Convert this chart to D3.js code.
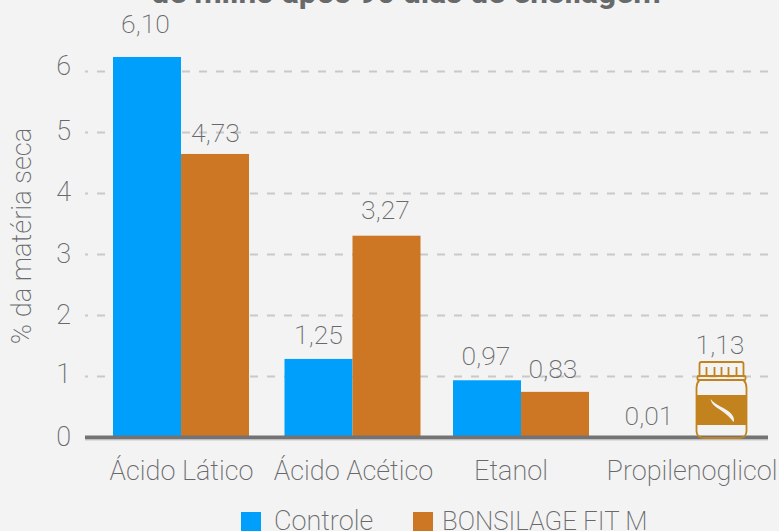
<!DOCTYPE html>
<html>
<head>
<meta charset="utf-8">
<script src="https://cdnjs.cloudflare.com/ajax/libs/d3/7.8.5/d3.min.js"></script>
<style>
  html, body { margin: 0; padding: 0; background: #f3f3f3; overflow: hidden; }
  text { font-family: Roboto, sans-serif; font-weight: 200; fill: #68696b; }
</style>
</head>
<body>
<div id="chart-area"></div>
<script>
const categories = ['Ácido Lático', 'Ácido Acético', 'Etanol', 'Propilenoglicol']
const seriesNames = ['Controle', 'BONSILAGE FIT M']
const controle = [6.23, 1.28, 0.93, 0]
const bonsilage = [4.64, 3.3, 0.74, 0]
const controleLabels = ['6,10', '1,25', '0,97', '0,01']
const bonsilageLabels = ['4,73', '3,27', '0,83', '1,13']
const yTicks = [0, 1, 2, 3, 4, 5, 6]

const width = 779
const height = 531
const colors = ['#009ffc', '#cd7724']

const svg = d3.select('#chart-area')
  .append('svg')
    .attr('width', width)
    .attr('height', height)
    .style('display', 'block')

svg.append('text')
  .attr('x', 406)
  .attr('y', 3)
  .attr('text-anchor', 'middle')
  .style('font-size', '31.7px')
  .style('font-weight', 700)
  .text('de milho após 90 dias de ensilagem')

const scaleY = d3.scaleLinear()
  .domain([0, 6])
  .range([437, 71])

const scaleX = d3.scaleBand()
  .domain(categories)
  .range([96, 776])
  .paddingInner(0.2)
  .paddingOuter(0.1)

const scaleSeries = d3.scaleBand()
  .domain(seriesNames)
  .range([0, scaleX.bandwidth()])

// y axis, the ticks double as the dashed grid
const yAxisCall = d3.axisLeft(scaleY)
  .tickValues(yTicks)
  .tickSize(683)
  .tickPadding(14)
  .tickFormat(d => d)

const yAxis = svg.append('g')
  .attr('transform', 'translate(768, 0)')
  .call(yAxisCall)
yAxis.select('.domain').remove()
yAxis.selectAll('line')
  .attr('stroke', '#c9c9c9')
  .attr('stroke-width', 2)
  .attr('stroke-dasharray', '8 9')
const tickNudge = [-1, -3, -1, -1, -2, -2, -6]
yAxis.selectAll('text')
  .style('font-size', '27px')
  .attr('dy', (d, i) => 9.5 + tickNudge[i])

svg.append('text')
  .attr('transform', 'translate(31, 236) rotate(-90)')
  .attr('text-anchor', 'middle')
  .style('font-size', '27.3px')
  .text('% da matéria seca')

// the second group sits a little to the right in the original
const groupNudge = [0, 1.5, 0, 0]
const groups = svg.selectAll('.group').data(categories).enter()
  .append('g')
    .attr('class', 'group')
    .attr('transform', (d, i) => `translate(${scaleX(d) + groupNudge[i]}, 0)`)

groups.append('rect')
  .attr('x', scaleSeries(seriesNames[0]))
  .attr('y', (d, i) => scaleY(controle[i]))
  .attr('width', scaleSeries.bandwidth())
  .attr('height', (d, i) => scaleY(0) - scaleY(controle[i]))
  .attr('fill', colors[0])

// baseline goes over the blue bars and under the orange ones
svg.append('line')
  .attr('x1', 85)
  .attr('x2', 768)
  .attr('y1', scaleY(0) + 0.5)
  .attr('y2', scaleY(0) + 0.5)
  .attr('stroke', '#737375')
  .attr('stroke-width', 4)
svg.append('line')
  .attr('x1', 85)
  .attr('x2', 768)
  .attr('y1', scaleY(0) + 3)
  .attr('y2', scaleY(0) + 3)
  .attr('stroke', '#c9c9c9')
  .attr('stroke-width', 1)

groups.append('rect')
  .attr('x', scaleSeries(seriesNames[1]))
  .attr('y', (d, i) => scaleY(bonsilage[i]))
  .attr('width', scaleSeries.bandwidth())
  .attr('height', (d, i) => scaleY(0) - scaleY(bonsilage[i]))
  .attr('fill', colors[1])

// value labels sit by hand in the original, so nudge each one
const controleNudge = [[-1.5, -24], [0, -15], [-1, -15], [-8, -12]]
const bonsilageNudge = [[0.5, -12], [-1, -17], [-2, -14], [-5, -83]]

groups.append('text')
  .attr('x', scaleSeries(seriesNames[0]) + scaleSeries.bandwidth() / 2)
  .attr('y', (d, i) => scaleY(controle[i]))
  .attr('dx', (d, i) => controleNudge[i][0])
  .attr('dy', (d, i) => controleNudge[i][1])
  .attr('text-anchor', 'middle')
  .style('font-size', '26.5px')
  .text((d, i) => controleLabels[i])

groups.append('text')
  .attr('x', scaleSeries(seriesNames[1]) + scaleSeries.bandwidth() / 2)
  .attr('y', (d, i) => scaleY(bonsilage[i]))
  .attr('dx', (d, i) => bonsilageNudge[i][0])
  .attr('dy', (d, i) => bonsilageNudge[i][1])
  .attr('text-anchor', 'middle')
  .style('font-size', '26.5px')
  .text((d, i) => bonsilageLabels[i])

// category labels
const categoryNudge = [0.5, 1, -10, 1]
groups.append('text')
  .attr('x', scaleX.bandwidth() / 2)
  .attr('y', 480)
  .attr('dx', (d, i) => categoryNudge[i])
  .attr('text-anchor', 'middle')
  .style('font-size', '27px')
  .text(d => d)

// product jar stands in for the last orange bar
const jar = svg.append('g')
  .attr('transform', `translate(${scaleX(categories[3]) + scaleSeries(seriesNames[1]) + scaleSeries.bandwidth() / 2 - 3.5}, ${scaleY(0)})`)
  .attr('fill', 'none')
  .attr('stroke', '#c2831f')
  .attr('stroke-width', 1.8)

jar.append('path')
  .attr('fill', 'none')
  .attr('d', 'M-25,-49 Q-25,-54 -22,-57 L22,-57 Q25,-54 25,-49 L25,-6 Q25,1 17,1 L-17,1 Q-25,1 -25,-6 Z')
jar.append('rect')
  .attr('x', -25).attr('y', -42).attr('width', 50).attr('height', 30)
  .attr('fill', '#c2831f').attr('stroke', 'none')
jar.append('path')
  .attr('fill', '#f3f3f3').attr('stroke', 'none')
  .attr('d', 'M-11,-38 C-4,-30 3,-30 9,-24 C13,-20 13,-16 12,-15 C9,-19 5,-23 -1,-27 C-6,-30 -10,-33 -11,-38 Z')
jar.append('rect')
  .attr('x', -24).attr('y', -61).attr('width', 48).attr('height', 4).attr('rx', 1)
jar.append('path')
  .attr('d', 'M-22,-61 L-22,-73 Q-22,-75 -20,-75 L20,-75 Q22,-75 22,-73 L22,-61 M-15,-61 L-15,-70 M-7,-61 L-7,-70 M0,-61 L0,-70 M7,-61 L7,-70 M15,-61 L15,-70')

// legend
const legendX = [241, 413]
const legendTextX = [33, 29]
const legendFont = [27, 25.8]
const legend = svg.selectAll('.legend').data(seriesNames).enter()
  .append('g')
    .attr('class', 'legend')
    .attr('transform', (d, i) => `translate(${legendX[i]}, 512)`)

legend.append('rect')
  .attr('width', 20)
  .attr('height', 20)
  .attr('fill', (d, i) => colors[i])

legend.append('text')
  .attr('x', (d, i) => legendTextX[i])
  .attr('y', 18)
  .style('font-size', (d, i) => `${legendFont[i]}px`)
  .text(d => d)
</script>
</body>
</html>
